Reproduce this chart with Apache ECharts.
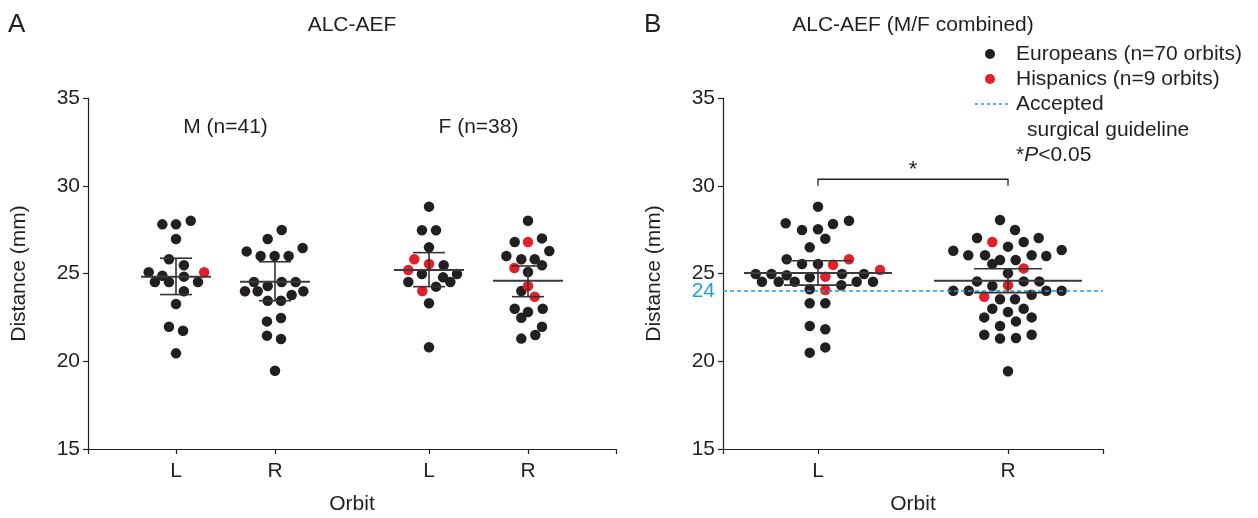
<!DOCTYPE html>
<html>
<head>
<meta charset="utf-8">
<script src="https://cdn.jsdelivr.net/npm/echarts@6/dist/echarts.min.js"></script>
<style>
html,body{margin:0;padding:0;background:#fff;}
#main{width:1258px;height:518px;}
</style>
</head>
<body>
<div id="main"></div>
<script>
// ---------- DATA ----------
const catA = ['L', 'R', 'L', 'R'];
const posA = [1, 2.125, 3.875, 5];
const catB = ['L', 'R'];
const posB = [1, 3];
const yTicks = [15, 20, 25, 30, 35];
const guideline = 24;

// Panel A, males left orbit
const mLeftVal = [27.80, 27.80, 28.01, 26.97, 25.81, 25.47, 25.07, 24.87, 24.82, 25.07, 24.52, 24.52, 24.52, 23.99, 23.26, 21.97, 21.74, 20.45];
const mLeftOff = [-0.155, 0, 0.167, 0, -0.08, 0.09, -0.31, -0.155, 0.09, 0.32, -0.24, -0.08, 0.25, 0.09, 0, -0.08, 0.08, 0];
const mLeftHisp = [9];
// Panel A, males right orbit
const mRightVal = [27.48, 26.97, 26.26, 26.45, 26.0, 26.0, 26.0, 24.52, 24.52, 24.52, 24.29, 23.99, 23.99, 23.99, 23.77, 23.45, 23.45, 22.27, 22.46, 21.46, 21.27, 19.46];
const mRightOff = [0.076, -0.083, -0.322, 0.314, -0.163, -0.004, 0.155, -0.239, 0.076, 0.235, -0.083, -0.341, -0.197, 0.322, 0.189, -0.083, 0.068, -0.091, 0.068, -0.091, 0.068, 0];
const mRightHisp = [];
// Panel A, females left orbit
const fLeftVal = [28.81, 27.46, 27.46, 26.49, 25.81, 25.54, 25.47, 25.20, 24.97, 24.97, 24.78, 24.52, 24.52, 24.25, 24.0, 23.30, 20.80];
const fLeftOff = [0, -0.08, 0.08, 0, -0.167, 0, 0.167, -0.235, -0.08, 0.318, 0.16, -0.235, 0.242, 0.08, -0.076, 0, 0];
const fLeftHisp = [4, 5, 7, 14];
// Panel A, females right orbit
const fRightVal = [28.01, 26.79, 26.79, 27.0, 26.28, 26.0, 25.81, 25.81, 25.47, 25.31, 25.09, 24.29, 24.0, 23.68, 22.99, 22.81, 22.99, 22.48, 21.97, 21.50, 21.29];
const fRightOff = [0, -0.151, 0, 0.159, 0.242, -0.246, -0.076, 0.076, 0.159, -0.155, 0, 0, -0.076, 0.076, -0.151, 0, 0.167, -0.076, 0.159, 0.083, -0.076];
const fRightHisp = [2, 9, 11, 13];

// Panel B, combined left orbit
const bLeftVal = [28.81, 27.86, 27.48, 27.52, 27.82, 28.01, 26.98, 26.49, 25.81, 25.54, 25.54, 25.50, 25.81, 24.97, 24.97, 24.90, 24.97, 24.97, 25.20, 24.53, 24.53, 24.53, 24.78, 24.82, 24.33, 24.53, 24.53, 24.10, 24.06, 23.30, 23.30, 22.01, 21.82, 20.49, 20.79];
const bLeftOff = [0, -0.34, -0.168, 0, 0.158, 0.326, 0.077, -0.087, -0.33, -0.168, 0, 0.158, 0.326, -0.656, -0.49, -0.33, 0.253, 0.484, 0.653, -0.59, -0.414, -0.245, -0.087, 0.077, 0.245, 0.407, 0.579, -0.087, 0.077, -0.087, 0.077, -0.087, 0.077, -0.087, 0.077];
const bLeftHisp = [11, 12, 18, 23, 28];
// Panel B, combined right orbit
const bRightVal = [28.05, 27.48, 27.02, 26.79, 26.53, 26.79, 27.02, 26.30, 26.04, 26.04, 25.77, 25.54, 25.77, 26.04, 26.0, 26.34, 25.29, 25.01, 24.55, 24.29, 24.33, 24.55, 24.55, 24.02, 24.02, 23.68, 23.53, 23.53, 23.79, 24.02, 24.02, 22.99, 22.81, 22.99, 22.50, 22.27, 22.50, 22.01, 21.51, 21.29, 21.32, 21.51, 19.43];
const bRightOff = [-0.084, 0.074, -0.326, -0.165, 0, 0.165, 0.323, -0.576, -0.418, -0.242, -0.084, -0.165, 0.081, 0.249, 0.403, 0.565, 0.165, 0, -0.326, -0.165, 0, 0.165, 0.33, -0.576, -0.414, -0.25, -0.084, 0.074, 0.249, 0.403, 0.565, -0.165, 0, 0.165, -0.25, 0.084, 0.249, -0.084, -0.25, -0.084, 0.084, 0.249, 0];
const bRightHisp = [3, 16, 20, 25];

// mean and SEM bars: [mean, lower, upper]
const statsA = [[24.82, 23.80, 25.87], [24.53, 23.45, 25.67], [25.20, 24.25, 26.19], [24.59, 23.68, 25.43]];
const statsB = [[25.03, 24.34, 25.73], [24.59, 23.91, 25.27]];
const groupLabelsA = ['M (n=41)', 'F (n=38)'];
const bracketB = [1, 3, 30.37, 30.0];

// ---------- BUILD ----------
const FONT = '"Liberation Sans", Arial, Helvetica, sans-serif';
const FS = 21;
const INK = '#231f20';
const RED = '#e3202a';
const BLUE = '#1a9fdb';

function split(center, vals, offs, hisp) {
  const eu = [], hi = [];
  vals.forEach((v, i) => {
    const p = [center + offs[i], v];
    (hisp.indexOf(i) >= 0 ? hi : eu).push(p);
  });
  return { eu, hi };
}
const gA = [
  split(posA[0], mLeftVal, mLeftOff, mLeftHisp),
  split(posA[1], mRightVal, mRightOff, mRightHisp),
  split(posA[2], fLeftVal, fLeftOff, fLeftHisp),
  split(posA[3], fRightVal, fRightOff, fRightHisp)
];
const gB = [
  split(posB[0], bLeftVal, bLeftOff, bLeftHisp),
  split(posB[1], bRightVal, bRightOff, bRightHisp)
];
const euA = [].concat(...gA.map(g => g.eu)), hiA = [].concat(...gA.map(g => g.hi));
const euB = [].concat(...gB.map(g => g.eu)), hiB = [].concat(...gB.map(g => g.hi));

function barRenderer(meanHalf, capHalf) {
  return function (params, api) {
    const x = api.value(0);
    const m = api.coord([x, api.value(1)]);
    const lo = api.coord([x, api.value(2)]);
    const hi = api.coord([x, api.value(3)]);
    const ls = { stroke: '#333', lineWidth: 1.6 };
    return {
      type: 'group',
      children: [
        { type: 'line', shape: { x1: m[0] - meanHalf, y1: m[1], x2: m[0] + meanHalf, y2: m[1] }, style: { stroke: '#3a3a3a', lineWidth: 2 } },
        { type: 'line', shape: { x1: m[0], y1: lo[1], x2: m[0], y2: hi[1] }, style: ls },
        { type: 'line', shape: { x1: m[0] - capHalf, y1: lo[1], x2: m[0] + capHalf, y2: lo[1] }, style: ls },
        { type: 'line', shape: { x1: m[0] - capHalf, y1: hi[1], x2: m[0] + capHalf, y2: hi[1] }, style: ls }
      ]
    };
  };
}

const axisLineStyle = { color: INK, width: 1.2 };
function xAxisCfg(gridIndex, max, pos, cats) {
  return {
    type: 'value', gridIndex, min: 0, max,
    name: 'Orbit', nameLocation: 'middle', nameGap: 45,
    nameTextStyle: { color: INK, fontSize: FS, fontFamily: FONT },
    axisLine: { lineStyle: axisLineStyle },
    axisTick: { show: true, length: 5, lineStyle: axisLineStyle, customValues: [0].concat(pos, [max]) },
    axisLabel: { customValues: pos, margin: 12, color: INK, fontSize: FS, fontFamily: FONT,
      formatter: v => { const i = pos.findIndex(p => Math.abs(p - v) < 1e-6); return i >= 0 ? cats[i] : ''; } },
    splitLine: { show: false }
  };
}
function yAxisCfg(gridIndex, withGuide) {
  const labels = withGuide ? yTicks.concat([guideline]).sort((a, b) => a - b) : yTicks;
  return {
    type: 'value', gridIndex, min: 15, max: 35, interval: 5,
    name: 'Distance (mm)', nameLocation: 'middle', nameGap: 58,
    nameTextStyle: { color: INK, fontSize: FS, fontFamily: FONT },
    axisLine: { show: true, lineStyle: axisLineStyle },
    axisTick: { show: true, length: 5, lineStyle: axisLineStyle, customValues: yTicks },
    axisLabel: { customValues: labels, margin: 8, fontSize: FS, fontFamily: FONT,
      color: v => (withGuide && +v === guideline) ? BLUE : INK },
    splitLine: { show: false }
  };
}

const chart = echarts.init(document.getElementById('main'), null, { renderer: 'canvas' });
const option = {
  animation: false,
  backgroundColor: '#fff',
  grid: [
    { left: 88, right: 642, top: 98, bottom: 69, containLabel: false, outerBoundsMode: 'none' },
    { left: 723, right: 155, top: 98, bottom: 69, containLabel: false, outerBoundsMode: 'none' }
  ],
  xAxis: [xAxisCfg(0, 6, posA, catA), xAxisCfg(1, 4, posB, catB)],
  yAxis: [yAxisCfg(0, false), yAxisCfg(1, true)],
  series: [
    { type: 'scatter', name: 'Europeans', xAxisIndex: 0, yAxisIndex: 0, data: euA, symbolSize: 10.5, itemStyle: { color: INK, opacity: 1 }, z: 2 },
    { type: 'scatter', name: 'Hispanics', xAxisIndex: 0, yAxisIndex: 0, data: hiA, symbolSize: 10.5, itemStyle: { color: RED, opacity: 1 }, z: 3 },
    { type: 'custom', xAxisIndex: 0, yAxisIndex: 0, renderItem: barRenderer(35, 16),
      data: statsA.map((s, i) => [posA[i], s[0], s[1], s[2]]), z: 5 },
    { type: 'scatter', name: 'Europeans', xAxisIndex: 1, yAxisIndex: 1, data: euB, symbolSize: 10.5, itemStyle: { color: INK, opacity: 1 }, z: 2,
      markLine: { silent: true, symbol: 'none', label: { show: false },
        lineStyle: { type: [4, 3], color: BLUE, width: 1.5 }, data: [{ yAxis: guideline }] } },
    { type: 'scatter', name: 'Hispanics', xAxisIndex: 1, yAxisIndex: 1, data: hiB, symbolSize: 10.5, itemStyle: { color: RED, opacity: 1 }, z: 3 },
    { type: 'custom', xAxisIndex: 1, yAxisIndex: 1, renderItem: barRenderer(74, 34),
      data: statsB.map((s, i) => [posB[i], s[0], s[1], s[2]]), z: 5 },
    { type: 'custom', xAxisIndex: 1, yAxisIndex: 1, data: [bracketB], z: 5,
      renderItem: function (params, api) {
        const a = api.coord([api.value(0), api.value(2)]);
        const b = api.coord([api.value(1), api.value(3)]);
        const c = api.coord([api.value(1), api.value(2)]);
        return { type: 'group', children: [
          { type: 'polyline', shape: { points: [[a[0], b[1]], [a[0], a[1]], [c[0], c[1]], [c[0], b[1]]] }, style: { stroke: INK, lineWidth: 1.3, fill: null } },
          { type: 'text', style: { text: '*', x: (a[0] + c[0]) / 2, y: a[1] + 2, align: 'center', verticalAlign: 'bottom', fontSize: 22, fontFamily: FONT, fill: INK } }
        ] };
      } }
  ],
  graphic: []
};
chart.setOption(option);

// group labels above panel A clusters, placed through the axis scales
const lblM = chart.convertToPixel({ gridIndex: 0 }, [(posA[0] + posA[1]) / 2, 33.35]);
const lblF = chart.convertToPixel({ gridIndex: 0 }, [(posA[2] + posA[3]) / 2, 33.35]);
const txt = (text, x, y, extra) => Object.assign({ type: 'text', x, y, style: Object.assign({ text, fontSize: FS, fontFamily: FONT, fill: INK, verticalAlign: 'middle' }, extra || {}) });
chart.setOption({
  graphic: [
    txt('A', 8, 25, { fontSize: 26 }),
    txt('ALC-AEF', 352, 25, { align: 'center' }),
    txt('B', 644, 25, { fontSize: 26 }),
    txt('ALC-AEF (M/F combined)', 913, 25, { align: 'center' }),
    txt(groupLabelsA[0], lblM[0], lblM[1], { align: 'center' }),
    txt(groupLabelsA[1], lblF[0], lblF[1], { align: 'center' }),
    { type: 'circle', shape: { cx: 990, cy: 54, r: 5 }, style: { fill: INK } },
    txt('Europeans (n=70 orbits)', 1016, 54),
    { type: 'circle', shape: { cx: 990, cy: 79, r: 5 }, style: { fill: RED } },
    txt('Hispanics (n=9 orbits)', 1016, 79),
    { type: 'line', shape: { x1: 975, y1: 104, x2: 1008, y2: 104 }, style: { stroke: BLUE, lineWidth: 1.5, lineDash: [3, 3] } },
    txt('Accepted', 1016, 104),
    txt('surgical guideline', 1027, 130),
    { type: 'text', x: 1016, y: 155, style: { rich: { n: { fontSize: FS, fontFamily: FONT, fill: INK }, i: { fontSize: FS, fontFamily: FONT, fontStyle: 'italic', fill: INK } }, text: '{n|*}{i|P}{n|<0.05}', verticalAlign: 'middle' } }
  ]
});
</script>
</body>
</html>
